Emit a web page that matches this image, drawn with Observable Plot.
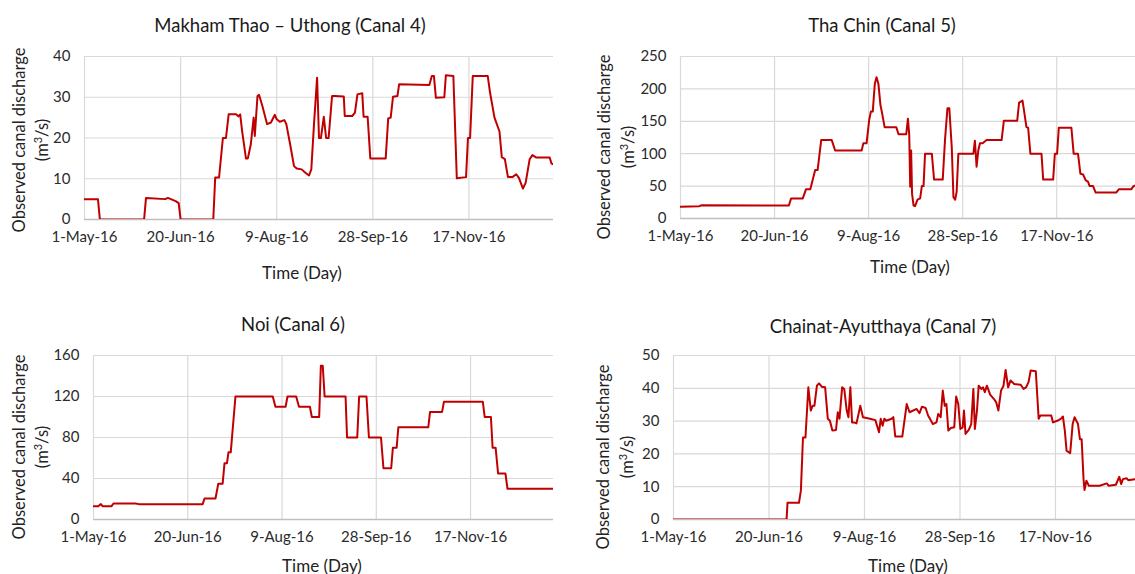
<!DOCTYPE html>
<html>
<head>
<meta charset="utf-8">
<script src="https://cdn.jsdelivr.net/npm/d3@7"></script>
<script src="https://cdn.jsdelivr.net/npm/@observablehq/plot@0.6"></script>
<style>
  html, body { margin: 0; padding: 0; background: #fff; overflow: hidden; }
  #root { position: relative; width: 1135px; height: 574px; overflow: hidden; font-family: Lato, "Open Sans", sans-serif; color: #222; }
  .panel { position: absolute; overflow: hidden; }
  .txt { position: absolute; white-space: nowrap; transform: translate(-50%, -50%); }
  .title { font-size: 18.5px; color: #1a1a1a; }
  .xlab { font-size: 17px; color: #222; }
  .ylab { font-size: 16.5px; color: #222; transform: translate(-50%, -50%) rotate(-90deg); }
</style>
</head>
<body>
<div id="root"></div>
<script>
// ---- shared x-axis (days since 1-May-2016) ----
const tickDays = [0, 50, 100, 150, 200];
const tickLabels = ["1-May-16", "20-Jun-16", "9-Aug-16", "28-Sep-16", "17-Nov-16"];
const lastDay = 244;

// ---- Canal 4: Makham Thao – Uthong ----
const canal4Title = "Makham Thao – Uthong (Canal 4)";
const canal4YTicks = [0, 10, 20, 30, 40];
const canal4Day = [0,7,8,31,32,42,43.4,47.4,49,50,67,68,70,72,73.6,75,79,80,81,82,84,85,86.5,88,88.6,90,90.8,92.5,95,97,99,100,101.6,104,105,107,109,110.4,113,114.6,116.8,118,119.4,121,122,123,124.5,125.7,127,128.8,130.5,134.9,135.4,139.3,140.7,142,144.5,145.2,147.3,148.7,156.7,158,159.3,160.5,162.8,163.7,179.4,180.7,181.8,182.8,187.2,188,191.9,193.7,198.5,199.5,200.6,202,209.8,211,213.3,215.9,217.1,218.7,220.3,222.6,224.6,226,228.1,229.5,231.6,233,235.1,237.7,242,243,244];
const canal4Q = [5,5,0,0,5.3,5,5.3,4.5,4,0,0,10.3,10.3,20,20,25.8,25.8,25.3,25.8,21.7,15,15,18.4,25,20.5,30.3,30.6,27.9,23.4,23.8,25.7,24.6,24,24.4,23.4,18.4,13.1,12.5,12.3,11.6,10.8,12.3,23.4,34.8,20,20,25.2,20,20,30.3,30.3,30.2,25.4,25.4,26.2,30.7,31,25.2,25.2,15,15,24.8,25,30.1,30.3,33.2,33,35.2,35.2,29.9,30,35.4,35.2,10.1,10.4,20,20,35.2,35.2,31.1,25,21.6,15.3,14.8,10.4,10.4,11.1,10.2,7.6,9,14.8,15.8,15.2,15.2,15.2,13.7,13.5];

// ---- Canal 5: Tha Chin ----
const canal5Title = "Tha Chin (Canal 5)";
const canal5YTicks = [0, 50, 100, 150, 200, 250];
const canal5Day = [0,10,11.3,57.6,58.8,65,66.7,69,71.6,72.9,74.8,80.4,82.2,96.3,97.2,98.9,100.3,101.2,102.2,103.3,104.2,105.2,106.3,107.2,108.5,114.7,115.9,120,120.9,121.6,122.1,122.6,123.1,123.9,124.7,126,127.4,128.3,129.2,130,133.6,134.8,139.4,140.6,141.9,142.9,144.2,145.1,146,146.8,147.7,155.7,156.5,157.4,158.3,159.2,160.6,162.7,170.7,171.9,179,180,181.8,182.7,183.9,184.8,186,191.9,192.8,198.1,199,200.2,201.1,207.8,209,211.3,212.6,214,215.4,216.6,217.5,219.3,220.7,231.6,233,239.6,240.8,244];
const canal5Q = [18,19,20.5,20,31,31,45,45,75,75,121,121,105,105,116,116,152,165,165,208,218,208,175,162,141,141,130,130,154,129,49,105,38,20,19,29,31,50,50,100,100,60,60,121,170,170,110,33,29,41,100,100,120,80,105,116,116,121,121,151,151,179,182,165,141,140,100,100,60,60,100,100,140,140,100,100,69,68,59,57,50,50,40,40,45,45,50,53];

// ---- Canal 6: Noi ----
const canal6Title = "Noi (Canal 6)";
const canal6YTicks = [0, 40, 80, 120, 160];
const canal6Day = [0,2.5,3.9,4.8,9.6,10.6,22.2,24.1,57.9,58.9,64.7,66.2,68.5,69.5,70.8,71.6,72.8,75.3,95.1,96.5,101.9,102.9,107.5,109,114.8,115.8,119.7,120.6,121.6,122.6,133.7,134.5,139.9,140.9,144.8,146.1,152.5,153.8,157.9,158.8,160.8,161.7,177.6,178.5,184.9,185.9,206.5,207.5,210.8,211.7,213.3,214.6,218.5,219.6,244];
const canal6Q = [13,13,15,13,13,15.6,15.6,15,15,20.5,20.5,35,35,55,55,65.5,65.5,120,120,110,110,120,120,110,110,100,100,150,150,120,120,80,80,120,120,80,80,50,50,70,70,90,90,105,105,115,115,100,100,70,70,45,45,30,30];

// ---- Canal 7: Chainat-Ayutthaya ----
const canal7Title = "Chainat-Ayutthaya (Canal 7)";
const canal7YTicks = [0, 10, 20, 30, 40, 50];
const canal7Day = [0,59.2,59.7,65.7,66.7,67.8,69.1,70.6,71.9,72.9,73.8,75.1,76.2,77.6,79.4,80.8,81.9,83.2,85.1,86,86.9,88.3,89.4,90.7,91.6,92.6,93.5,94.5,95.8,96.9,97.8,99.2,102.9,105.7,107.6,108.5,109.5,110.4,111.4,114.2,115.1,116.1,119.8,122.1,123.6,127.3,128.8,130.1,132,133.3,135.8,137.7,138.6,139.9,141,142,142.9,143.9,145.2,147,148,149.1,150.2,151.4,152.1,152.9,154.6,155.9,157,157.8,158.9,159.8,161.1,162.1,163,164.1,165.8,167.7,169,170.1,171.5,172.8,173.9,175.2,176.5,178.4,181.8,183.3,184.6,185.9,187,189.7,191.2,192.1,197.8,198.7,200.9,202.8,203.9,204.9,205.8,207.7,209,210,211.8,212.8,213.7,214.7,215.2,216.2,217.5,223.1,226.9,227.8,231.6,233.4,234.4,235.3,237.2,238.1,241.5,244];
const canal7Q = [0,0,5.1,5.1,8.8,25,25,40.3,33.2,34.7,34.7,40.8,41.5,40.5,40.3,30.7,30.1,27.1,27.3,32.7,30.7,40.3,39.8,33.2,31.2,40.3,29.6,29.6,29.3,32.2,34.7,31.2,30.7,30.3,26.6,30.7,28.6,30.7,30.1,30.7,31.2,25.3,25.3,35.2,32.7,33.7,32.4,34.4,34,31.7,29.1,29.6,32.2,31.2,39.3,34.7,35.2,27.1,27.9,28.1,37.5,35.2,27.6,28.1,33.2,26.1,27.3,29.1,39.8,27.6,33.2,40.8,39.8,40.3,38.8,40.8,38.1,36.8,35.7,33.2,39.3,40.8,45.6,40.3,42.4,41.3,41.1,39.8,40.3,41.9,45.4,45.2,30.7,31.7,31.7,29.6,30.1,30.7,31.4,27.1,21,20.2,29.1,31.2,29.1,24.5,24.5,12.3,9,11.8,10.3,10.3,11,10.3,10.6,13,10.8,12.3,12.6,12,12.3,12.3];

const root = document.getElementById("root");

function addText(cls, text, x, y) {
  const d = document.createElement("div");
  d.className = "txt " + cls;
  d.innerHTML = text;
  d.style.left = x + "px";
  d.style.top = y + "px";
  root.appendChild(d);
}

function panel(cfg) {
  const data = cfg.day.map((d, i) => ({day: d, q: cfg.q[i]}));
  const yMax = cfg.yTicks[cfg.yTicks.length - 1];
  const svg = Plot.plot({
    width: cfg.W, height: cfg.H,
    marginLeft: cfg.ml, marginRight: cfg.mr, marginTop: cfg.mt, marginBottom: cfg.mb,
    style: {fontFamily: "Lato, 'Open Sans', sans-serif", fontSize: "15px", color: "#2b2b2b", background: "transparent", maxWidth: "none", overflow: "visible"},
    x: {type: "linear", domain: [0, lastDay]},
    y: {type: "linear", domain: [0, yMax]},
    marks: [
      Plot.gridY({ticks: cfg.yTicks, stroke: "#d9d9d9", strokeOpacity: 1, strokeWidth: 1.2}),
      Plot.gridX({ticks: tickDays, stroke: "#d9d9d9", strokeOpacity: 1, strokeWidth: 1.2}),
      Plot.ruleY([0], {stroke: "#bfbfbf", strokeWidth: 1.6}),
      Plot.axisX({ticks: tickDays, tickSize: 0, tickPadding: 12, label: null,
                  tickFormat: (d) => tickLabels[tickDays.indexOf(d)]}),
      Plot.axisY({ticks: cfg.yTicks, tickSize: 0, tickPadding: 14, label: null}),
      Plot.line(data, {x: "day", y: "q", stroke: "#c00000", strokeWidth: 2, clip: true})
    ]
  });
  const box = document.createElement("div");
  box.className = "panel";
  box.style.left = cfg.left + "px";
  box.style.top = cfg.top + "px";
  box.style.width = cfg.boxW + "px";
  box.style.height = cfg.H + "px";
  box.appendChild(svg);
  root.appendChild(box);
}

// Canal 4 (top-left)
panel({day: canal4Day, q: canal4Q, yTicks: canal4YTicks, left: 0, top: 0, W: 567, boxW: 567, H: 287, ml: 84, mr: 14, mt: 56, mb: 68});
addText("title", canal4Title, 290, 25);
addText("xlab", "Time (Day)", 302, 272);
addText("ylab", "Observed canal discharge", 19, 140);
addText("ylab", "(m<sup style='font-size:11px;vertical-align:6px;line-height:0'>3</sup>/s)", 42, 140);

// Canal 5 (top-right)
panel({day: canal5Day, q: canal5Q, yTicks: canal5YTicks, left: 567, top: 0, W: 580, boxW: 568, H: 287, ml: 113, mr: 8, mt: 56, mb: 69});
addText("title", canal5Title, 882, 25);
addText("xlab", "Time (Day)", 910, 266);
addText("ylab", "Observed canal discharge", 604, 147);
addText("ylab", "(m<sup style='font-size:11px;vertical-align:6px;line-height:0'>3</sup>/s)", 628, 147);

// Canal 6 (bottom-left)
panel({day: canal6Day, q: canal6Q, yTicks: canal6YTicks, left: 0, top: 290, W: 567, boxW: 567, H: 284, ml: 93, mr: 14, mt: 65, mb: 55});
addText("title", canal6Title, 293, 324);
addText("xlab", "Time (Day)", 322, 565);
addText("ylab", "Observed canal discharge", 19, 447);
addText("ylab", "(m<sup style='font-size:11px;vertical-align:6px;line-height:0'>3</sup>/s)", 42, 447);

// Canal 7 (bottom-right)
panel({day: canal7Day, q: canal7Q, yTicks: canal7YTicks, left: 567, top: 290, W: 580, boxW: 568, H: 284, ml: 106, mr: 8, mt: 65, mb: 55});
addText("title", canal7Title, 883, 326);
addText("xlab", "Time (Day)", 908, 565);
addText("ylab", "Observed canal discharge", 603, 457);
addText("ylab", "(m<sup style='font-size:11px;vertical-align:6px;line-height:0'>3</sup>/s)", 627, 457);
</script>
</body>
</html>
